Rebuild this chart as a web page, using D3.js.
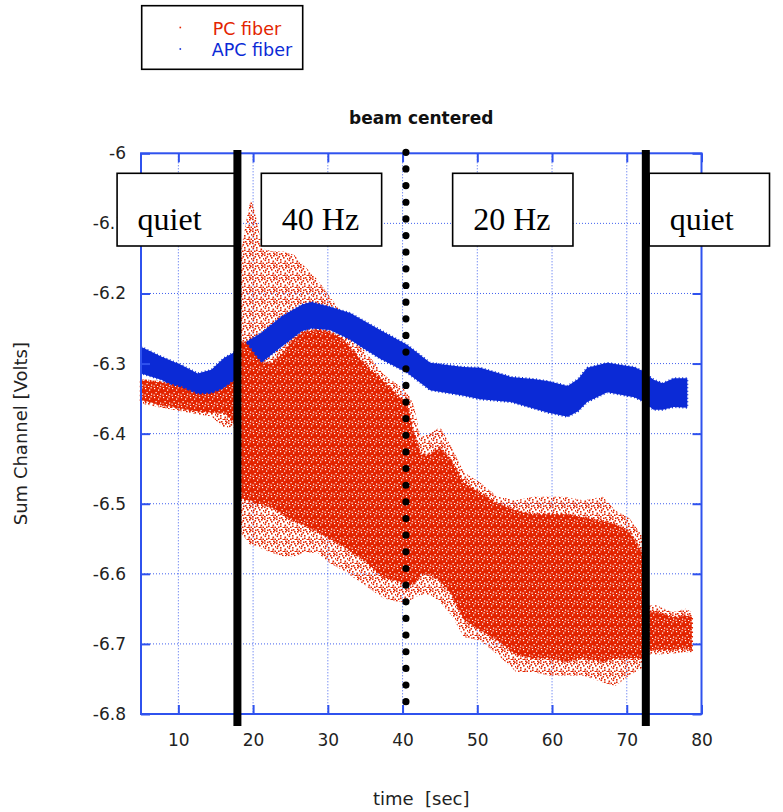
<!DOCTYPE html>
<html>
<head>
<meta charset="utf-8">
<script src="https://cdn.jsdelivr.net/npm/d3@7"></script>
<style>
  html, body { margin: 0; padding: 0; background: #fff; }
  svg { display: block; }
</style>
</head>
<body>
<svg id="chart" width="783" height="812"></svg>
<script>
// Sum channel of the position detector, beam centred, recorded through
// two fibre types while the table is quiet, shaken at 40 Hz, then at 20 Hz.

// APC fiber: band of samples (upper / lower edge) versus time [sec]
const apcTime = [5.0, 7.7, 10.4, 12.6, 14.4, 16.1, 17.3, 18.8, 21.1, 23.8, 26.5, 27.8,
                 30.3, 33.0, 35.0, 37.0, 40.6, 43.7, 46.0, 48.2, 50.4, 54.5, 57.5, 59.4,
                 62.1, 63.5, 64.7, 67.4, 71.0, 72.0, 73.6, 74.8, 76.3, 78.1];
const apcHigh = [-6.276, -6.290, -6.302, -6.314, -6.309, -6.292, -6.285, -6.271, -6.256, -6.233, -6.216, -6.212,
                 -6.219, -6.228, -6.240, -6.252, -6.273, -6.299, -6.302, -6.305, -6.306, -6.319, -6.322, -6.325,
                 -6.332, -6.322, -6.306, -6.299, -6.305, -6.310, -6.323, -6.328, -6.321, -6.321];
const apcLow  = [-6.314, -6.323, -6.338, -6.354, -6.349, -6.335, -6.326, -6.309, -6.299, -6.276, -6.254, -6.250,
                 -6.252, -6.266, -6.280, -6.293, -6.313, -6.338, -6.342, -6.346, -6.351, -6.355, -6.364, -6.370,
                 -6.376, -6.368, -6.355, -6.341, -6.348, -6.353, -6.366, -6.366, -6.362, -6.363];

// PC fiber: outer spread of the scattered samples and the dense core
const pcTime      = [5.0, 7.7, 10.4, 12.6, 14.4, 16.1, 17.3, 17.9, 18.2, 19.0, 19.7, 20.4,
                     21.2, 22.5, 24.0, 25.5, 26.8, 28.6, 30.3, 32.0, 34.8, 37.4, 39.3, 40.6,
                     41.5, 42.4, 43.7, 45.0, 46.6, 48.2, 50.4, 52.7, 55.2, 57.4, 59.6, 61.8,
                     64.1, 66.8, 68.5, 70.3, 72.0, 72.6, 74.0, 76.1, 77.9, 78.7];
const pcOuterHigh = [-6.322, -6.325, -6.331, -6.340, -6.340, -6.333, -6.322, -6.318, -6.150, -6.100, -6.065, -6.090,
                     -6.135, -6.140, -6.140, -6.145, -6.160, -6.180, -6.205, -6.230, -6.280, -6.315, -6.330, -6.340,
                     -6.360, -6.405, -6.400, -6.390, -6.420, -6.455, -6.470, -6.490, -6.495, -6.490, -6.490, -6.490,
                     -6.495, -6.490, -6.510, -6.520, -6.545, -6.645, -6.645, -6.655, -6.650, -6.655];
const pcCoreHigh  = [-6.324, -6.327, -6.334, -6.344, -6.343, -6.336, -6.326, -6.322, -6.270, -6.270, -6.280, -6.290,
                     -6.300, -6.300, -6.285, -6.265, -6.255, -6.252, -6.255, -6.265, -6.300, -6.325, -6.345, -6.360,
                     -6.400, -6.430, -6.430, -6.420, -6.440, -6.470, -6.485, -6.500, -6.510, -6.515, -6.515, -6.515,
                     -6.520, -6.525, -6.530, -6.540, -6.570, -6.655, -6.655, -6.662, -6.660, -6.662];
const pcCoreLow   = [-6.352, -6.359, -6.364, -6.368, -6.370, -6.370, -6.382, -6.390, -6.490, -6.495, -6.495, -6.500,
                     -6.500, -6.505, -6.515, -6.525, -6.530, -6.540, -6.550, -6.560, -6.580, -6.605, -6.610, -6.615,
                     -6.615, -6.600, -6.600, -6.610, -6.630, -6.665, -6.680, -6.695, -6.715, -6.720, -6.720, -6.725,
                     -6.720, -6.725, -6.720, -6.720, -6.720, -6.708, -6.708, -6.708, -6.706, -6.708];
const pcOuterLow  = [-6.357, -6.363, -6.368, -6.373, -6.375, -6.392, -6.390, -6.398, -6.540, -6.550, -6.560, -6.560,
                     -6.565, -6.570, -6.575, -6.575, -6.570, -6.570, -6.585, -6.595, -6.615, -6.635, -6.640, -6.640,
                     -6.635, -6.630, -6.630, -6.640, -6.660, -6.690, -6.695, -6.715, -6.740, -6.740, -6.745, -6.745,
                     -6.745, -6.755, -6.760, -6.745, -6.735, -6.715, -6.715, -6.714, -6.712, -6.712];

// axes
const xTicks = [10, 20, 30, 40, 50, 60, 70, 80];
const yTicks = [-6, -6.1, -6.2, -6.3, -6.4, -6.5, -6.6, -6.7, -6.8];

// legend
const seriesNames  = ["PC fiber", "APC fiber"];
const seriesColors = ["#e32400", "#0b2ad6"];

// shaker phases: label and the time at which its label box starts
const phaseLabels = ["quiet", "40 Hz", "20 Hz", "quiet"];
const phaseBoxAt  = [1.8, 21.1, 46.7, 73.0];
// switching times: solid = shaker on/off, dotted = 40 Hz -> 20 Hz
const switchTimes = [17.9, 40.45, 72.55];
const switchKinds = ["solid", "dotted", "solid"];

// ---------------------------------------------------------------
const plot = { left: 141, top: 153.3, right: 701.5, bottom: 714 };
const x = d3.scaleLinear().domain([5, 80]).range([plot.left, plot.right]);
const y = d3.scaleLinear().domain([-6.8, -6]).range([plot.bottom, plot.top]);
const frameBlue = "#2f52ee";
const sans = "'DejaVu Sans', Verdana, sans-serif";

const svg = d3.select("#chart");
const defs = svg.append("defs");

// speckled fills for the scattered PC samples
const sparse = defs.append("pattern").attr("id", "pcSparse")
  .attr("patternUnits", "userSpaceOnUse").attr("width", 12).attr("height", 12);
[[0, 0], [0, 2.5], [5, 1], [9, 0.5], [9, 3], [2.5, 4], [7, 5], [11, 6], [0.5, 7.5],
 [4, 7], [4, 9.5], [8.5, 8.5], [2, 10.5], [6.5, 11], [10.5, 10.5], [6, 3], [1, 5.5],
 [10, 1.5], [8, 10.5], [3, 1.5]].forEach(([a, b]) =>
  sparse.append("rect").attr("x", a).attr("y", b).attr("width", 1.6).attr("height", 1.6)
    .attr("fill", seriesColors[0]));
const dense = defs.append("pattern").attr("id", "pcDense")
  .attr("patternUnits", "userSpaceOnUse").attr("width", 9).attr("height", 9);
dense.append("rect").attr("width", 9).attr("height", 9).attr("fill", seriesColors[0]);
[[1, 1], [5, 2.5], [2.5, 5], [7, 6.5], [0.5, 7.5], [6.5, 0.2], [4, 8]].forEach(([a, b]) =>
  dense.append("rect").attr("x", a).attr("y", b).attr("width", 1.2).attr("height", 1.2)
    .attr("fill", "#fff"));

// dotted grid
const grid = svg.append("g");
grid.selectAll(".gx").data(xTicks.filter(v => v < 80)).join("line")
  .attr("x1", d => x(d)).attr("x2", d => x(d))
  .attr("y1", plot.top).attr("y2", plot.bottom);
grid.selectAll(".gy").data(yTicks.filter(v => v < -6 && v > -6.8)).join("line")
  .attr("y1", d => y(d)).attr("y2", d => y(d))
  .attr("x1", plot.left).attr("x2", plot.right);
grid.selectAll("line").attr("stroke", frameBlue).attr("stroke-width", 1)
  .attr("stroke-dasharray", "1 2").attr("opacity", 0.9);

// bands
function band(t, lo, hi) {
  return d3.area()
    .x((d, i) => x(t[i]))
    .y0((d, i) => y(lo[i]))
    .y1((d, i) => y(hi[i]))(t);
}
svg.append("path").attr("d", band(pcTime, pcOuterLow, pcOuterHigh)).attr("fill", "url(#pcSparse)");
// APC band with a light dotted fringe
svg.append("path").attr("d", band(apcTime, apcLow, apcHigh)).attr("fill", seriesColors[1])
  .attr("stroke", seriesColors[1]).attr("stroke-width", 2).attr("stroke-dasharray", "1 2.5");
svg.append("path").attr("d", band(pcTime, pcCoreLow, pcCoreHigh)).attr("fill", "url(#pcDense)")
  .attr("stroke", seriesColors[0]).attr("stroke-width", 2.5).attr("stroke-dasharray", "1.5 3");

// frame and inward ticks
svg.append("rect").attr("x", plot.left).attr("y", plot.top)
  .attr("width", plot.right - plot.left).attr("height", plot.bottom - plot.top)
  .attr("fill", "none").attr("stroke", frameBlue).attr("stroke-width", 2);

const ax = svg.append("g").attr("font-family", sans).attr("font-size", 17).attr("fill", "#222");
const styleAxis = g => {
  g.select(".domain").remove();
  g.selectAll(".tick line").attr("stroke", frameBlue).attr("stroke-width", 2);
  g.selectAll(".tick text").attr("fill", "#222").attr("font-family", sans).attr("font-size", 17);
};
ax.append("g").attr("transform", `translate(0,${plot.bottom})`)
  .call(d3.axisBottom(x).tickValues(xTicks).tickSize(-9).tickPadding(20).tickFormat(d => String(d)))
  .call(styleAxis);
ax.append("g").attr("transform", `translate(0,${plot.top})`)
  .call(d3.axisTop(x).tickValues(xTicks).tickSize(-9).tickFormat(""))
  .call(styleAxis);
ax.append("g").attr("transform", `translate(${plot.left},0)`)
  .call(d3.axisLeft(y).tickValues(yTicks).tickSize(-9).tickPadding(15).tickFormat(d => String(d)))
  .call(styleAxis);
ax.append("g").attr("transform", `translate(${plot.right},0)`)
  .call(d3.axisRight(y).tickValues(yTicks).tickSize(-9).tickFormat(""))
  .call(styleAxis);

// phase label boxes
const boxW = x(16.1) - x(0);
const boxes = svg.append("g");
phaseLabels.forEach((lab, i) => {
  const bx = x(phaseBoxAt[i]);
  boxes.append("rect").attr("x", bx).attr("y", 173.3).attr("width", boxW).attr("height", 72.7)
    .attr("fill", "#fff").attr("stroke", "#000").attr("stroke-width", 1.6);
  boxes.append("text").attr("x", bx + 20.5).attr("y", 229.5)
    .attr("font-family", "'Liberation Serif', 'Times New Roman', serif")
    .attr("font-size", 32).attr("fill", "#000").text(lab);
});

// switching markers
switchTimes.forEach((t, i) => {
  if (switchKinds[i] === "solid") {
    svg.append("line").attr("x1", x(t)).attr("x2", x(t)).attr("y1", 150).attr("y2", 726)
      .attr("stroke", "#000").attr("stroke-width", 8);
  } else {
    const gap = (701.7 - 152.3) / 33;
    svg.append("line").attr("x1", x(t)).attr("x2", x(t)).attr("y1", 152.3).attr("y2", 701.8)
      .attr("stroke", "#000").attr("stroke-width", 7.2).attr("stroke-linecap", "round")
      .attr("stroke-dasharray", `0 ${gap}`);
  }
});

// titles
svg.append("text").attr("x", (plot.left + plot.right) / 2).attr("y", 124)
  .attr("text-anchor", "middle").attr("font-family", sans).attr("font-weight", "bold")
  .attr("font-size", 17).attr("fill", "#111").text("beam centered");
svg.append("text").attr("x", (plot.left + plot.right) / 2).attr("y", 805)
  .attr("text-anchor", "middle").attr("font-family", sans).attr("font-size", 18)
  .attr("fill", "#222").attr("xml:space", "preserve").style("white-space", "pre").text("time  [sec]");
svg.append("text").attr("transform", `translate(27,${(plot.top + plot.bottom) / 2}) rotate(-90)`)
  .attr("text-anchor", "middle").attr("font-family", sans).attr("font-size", 18)
  .attr("fill", "#222").text("Sum Channel [Volts]");

// legend
const leg = svg.append("g");
leg.append("rect").attr("x", 141.7).attr("y", 5.7).attr("width", 161).attr("height", 63.6)
  .attr("fill", "#fff").attr("stroke", "#000").attr("stroke-width", 1.6);
seriesNames.forEach((name, i) => {
  const cy = 27.5 + i * 21.5;
  leg.append("rect").attr("x", 179.5).attr("y", cy - 0.8).attr("width", 1.6).attr("height", 1.6)
    .attr("fill", seriesColors[i]);
  leg.append("text").attr("x", i === 0 ? 212.7 : 211.7).attr("y", cy + 7)
    .attr("font-family", sans).attr("font-size", 17.5).attr("fill", seriesColors[i]).text(name);
});
</script>
</body>
</html>
